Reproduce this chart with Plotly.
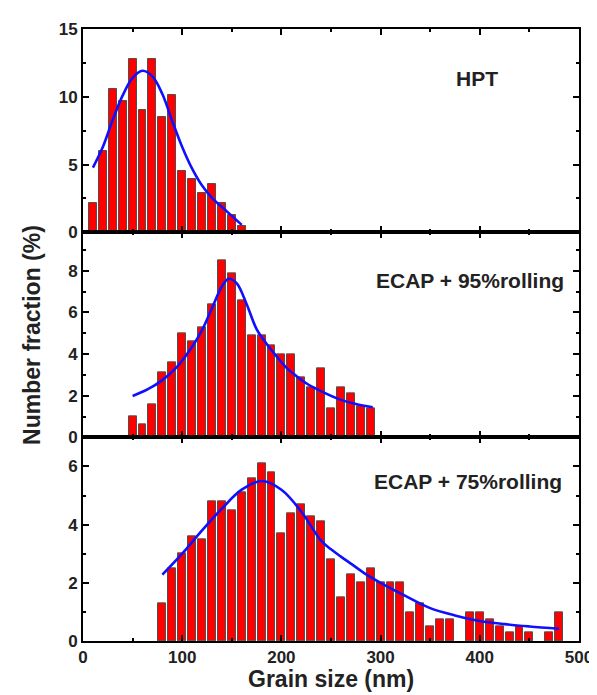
import plotly.graph_objects as go
from plotly.subplots import make_subplots

# ---------------- data ----------------
# HPT
hpt_x = [10, 20, 30, 40, 50, 60, 70, 80, 90, 100, 110, 120, 130, 140, 150, 160]
hpt_y = [2.2, 6.0, 10.6, 9.7, 12.8, 9.0, 12.8, 8.5, 10.1, 4.5, 3.9, 2.9, 3.6, 2.2, 1.25, 0.45]
hpt_fit_x = [10, 20, 30, 40, 50, 60, 70, 80, 90, 100, 110, 120, 130, 145, 160]
hpt_fit_y = [4.78, 6.3, 8.3, 10.1, 11.4, 11.92, 11.5, 10.2, 8.2, 6.3, 4.7, 3.45, 2.55, 1.55, 0.55]

# ECAP + 95% rolling
e95_x = [50, 60, 70, 80, 90, 100, 110, 120, 130, 140, 150, 160, 170, 180, 190, 200,
         210, 220, 230, 240, 250, 260, 270, 280, 290]
e95_y = [1.0, 0.6, 1.6, 3.1, 3.6, 5.0, 4.6, 5.3, 6.4, 8.5, 7.9, 6.6, 4.9, 4.9, 4.4, 4.0,
         4.0, 2.9, 2.4, 3.3, 1.4, 2.4, 2.1, 1.5, 1.4]
e95_fit_x = [50, 65, 80, 95, 110, 120, 130, 140, 147, 155, 165, 175, 185, 195, 205,
             215, 225, 243, 260, 275, 292]
e95_fit_y = [1.99, 2.3, 2.75, 3.4, 4.35, 5.15, 6.2, 7.25, 7.62, 7.4, 6.4, 5.2, 4.5, 3.9,
             3.35, 2.95, 2.6, 2.15, 1.8, 1.6, 1.45]

# ECAP + 75% rolling
e75_x = [80, 90, 100, 110, 120, 130, 140, 150, 160, 170, 180, 190, 200, 210, 220, 230,
         240, 250, 260, 270, 280, 290, 300, 310, 320, 330, 340, 350, 360, 370, 390,
         400, 410, 420, 430, 440, 450, 470, 480]
e75_y = [1.3, 2.5, 3.0, 3.6, 3.5, 4.8, 4.8, 4.5, 5.1, 5.6, 6.1, 5.8, 3.7, 4.4, 4.7, 4.3,
         4.1, 2.8, 1.5, 2.3, 2.0, 2.5, 2.0, 2.0, 2.0, 1.0, 1.3, 0.5, 0.75, 0.75, 1.0,
         1.0, 0.75, 0.5, 0.3, 0.5, 0.3, 0.3, 1.0]
e75_fit_x = [80, 100, 120, 140, 160, 180, 200, 220, 240, 250, 260, 270, 285, 300, 325,
             350, 375, 400, 425, 450, 480]
e75_fit_y = [2.28, 3.0, 3.8, 4.55, 5.2, 5.5, 5.2, 4.45, 3.45, 3.15, 2.9, 2.66, 2.3, 2.0,
             1.55, 1.13, 0.88, 0.69, 0.58, 0.5, 0.42]

labels = ["HPT", "ECAP + 95%rolling", "ECAP + 75%rolling"]
x_ticks = [0, 100, 200, 300, 400, 500]

# ---------------- figure ----------------
BAR_FILL = "#FF0000"
BAR_EDGE = "#505050"
FIT = "#1010FF"
FONT = "Liberation Sans, Arial, sans-serif"

fig = make_subplots(rows=3, cols=1, shared_xaxes=True, vertical_spacing=0)

panels = [(hpt_x, hpt_y, hpt_fit_x, hpt_fit_y),
          (e95_x, e95_y, e95_fit_x, e95_fit_y),
          (e75_x, e75_y, e75_fit_x, e75_fit_y)]
for i, (bx, by, fx, fy) in enumerate(panels, start=1):
    fig.add_trace(go.Bar(x=bx, y=by, width=8,
                         marker=dict(color=BAR_FILL, line=dict(color=BAR_EDGE, width=1)),
                         showlegend=False), row=i, col=1)
    fig.add_trace(go.Scatter(x=fx, y=fy, mode="lines", line=dict(color=FIT, width=2.6, shape="spline"),
                             showlegend=False), row=i, col=1)

axis_common = dict(showline=True, linecolor="black", linewidth=2, mirror="allticks",
                   ticks="inside", ticklen=6, tickwidth=1.5, tickcolor="black",
                   showgrid=False, zeroline=False,
                   tickfont=dict(family=FONT, size=17, color="#222222", weight="bold"))

h = 616.0
dom = [(0.0, 205 / h), (205 / h, 411.3 / h), (411.3 / h, 1.0)]

for r in (1, 2, 3):
    xa = "xaxis" if r == 1 else f"xaxis{r}"
    fig.layout[xa].update(range=[0, 500], tickvals=x_ticks, ticktext=[str(v) for v in x_ticks],
                          minor=dict(dtick=50, tick0=0, ticks="inside", ticklen=3, tickcolor="black"),
                          showticklabels=(r == 3), **axis_common)

fig.update_layout(
    yaxis=dict(domain=dom[2], range=[0, 15], tickvals=[0, 5, 10, 15],
               minor=dict(dtick=2.5, tick0=0, ticks="inside", ticklen=3, tickcolor="black"), **axis_common),
    yaxis2=dict(domain=dom[1], range=[0, 9.85], tickvals=[0, 2, 4, 6, 8],
                minor=dict(dtick=1, tick0=0, ticks="inside", ticklen=3, tickcolor="black"), **axis_common),
    yaxis3=dict(domain=dom[0], range=[0, 7], tickvals=[0, 2, 4, 6],
                minor=dict(dtick=1, tick0=0, ticks="inside", ticklen=3, tickcolor="black"), **axis_common),
)

ann_font = dict(family=FONT, size=21, color="#222222", weight="bold")
fig.add_annotation(text=labels[0], xref="paper", yref="paper", x=0.795, y=0.919,
                   showarrow=False, xanchor="center", yanchor="middle", font=ann_font)
fig.add_annotation(text=labels[1], xref="paper", yref="paper", x=0.974, y=0.589,
                   showarrow=False, xanchor="right", yanchor="middle", font=ann_font)
fig.add_annotation(text=labels[2], xref="paper", yref="paper", x=0.970, y=0.260,
                   showarrow=False, xanchor="right", yanchor="middle", font=ann_font)

title_font = dict(family=FONT, size=23, color="#222222", weight="bold")
fig.add_annotation(text="Grain size (nm)", xref="paper", yref="paper", x=0.5, y=-0.062,
                   showarrow=False, xanchor="center", yanchor="middle", font=title_font)
fig.add_annotation(text="Number fraction (%)", xref="paper", yref="paper", x=-0.103, y=0.5,
                   textangle=-90, showarrow=False, xanchor="center", yanchor="middle", font=title_font)

fig.update_layout(width=597, height=695, margin=dict(l=75, r=17, t=17, b=62),
                  plot_bgcolor="white", paper_bgcolor="white", bargap=0, showlegend=False)

fig.write_html("out.html")
